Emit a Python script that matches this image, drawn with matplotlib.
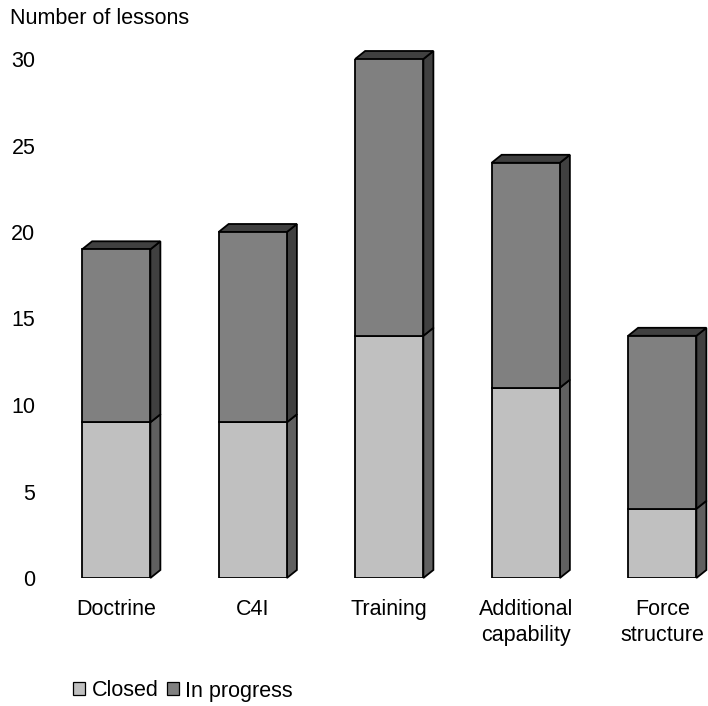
import numpy as np
import matplotlib.pyplot as plt
from matplotlib.patches import Polygon, Patch

plt.rcParams['font.family'] = ['Liberation Sans', 'DejaVu Sans']

categories = ['Doctrine', 'C4I', 'Training', 'Additional\ncapability', 'Force\nstructure']
closed = [9, 9, 14, 11, 4]
in_progress = [10, 11, 16, 13, 10]

# front / side / top colours for each series
c_front = ['#c0c0c0', '#808080']
c_side = ['#606060', '#404040']
c_top = ['#a0a0a0', '#404040']

fs = 15.5
W, H = 708, 706
fig = plt.figure(figsize=(W / 100, H / 100), dpi=100)
step = 136.5  # pixels between categories
ax = fig.add_axes([48 / W, (H - 578) / H, 660 / W, (578 - 59) / H])
ax.set_xlim(-0.5, -0.5 + 660 / step)
ax.set_ylim(0, 30)

bw = 0.5
dx = 10 / step            # depth offset in data units
dy = 8 / ((578 - 59) / 30)
lw = 1.3

x = np.arange(len(categories))
bottoms = np.zeros(len(x))
for k, vals in enumerate([closed, in_progress]):
    vals = np.array(vals, dtype=float)
    ax.bar(x, vals, bw, bottom=bottoms, color=c_front[k], edgecolor='black',
           linewidth=lw, zorder=3)
    for xi, b, v in zip(x, bottoms, vals):
        r = xi + bw / 2
        l = xi - bw / 2
        side = [(r, b), (r + dx, b + dy), (r + dx, b + v + dy), (r, b + v)]
        ax.add_patch(Polygon(side, closed=True, facecolor=c_side[k], edgecolor='black',
                             linewidth=lw, zorder=2, clip_on=False))
        if k == 1:
            top = [(l, b + v), (l + dx, b + v + dy), (r + dx, b + v + dy), (r, b + v)]
            ax.add_patch(Polygon(top, closed=True, facecolor=c_top[k], edgecolor='black',
                                 linewidth=lw, zorder=2, clip_on=False))
    bottoms = bottoms + vals

ax.set_xticks(x)
ax.set_xticklabels(categories, fontsize=fs, linespacing=1.3)
ax.set_yticks(range(0, 31, 5))
ax.tick_params(axis='both', length=0, labelsize=fs)
ax.tick_params(axis='x', pad=15)
ax.tick_params(axis='y', pad=9)
for s in ax.spines.values():
    s.set_visible(False)

fig.text(10 / W, 1 - 19 / H, 'Number of lessons', fontsize=fs, va='center', ha='left')

handles = [Patch(facecolor=c_front[0], edgecolor='black', linewidth=0.9),
           Patch(facecolor=c_front[1], edgecolor='black', linewidth=0.9)]
fig.legend(handles, ['Closed', 'In progress'], loc='center', bbox_to_anchor=(183 / W, 15 / H),
           ncol=2, frameon=False, fontsize=fs, handlelength=0.55, handleheight=0.55,
           handletextpad=0.3, columnspacing=0.4, borderaxespad=0)

fig.savefig('out.png', dpi=100)
